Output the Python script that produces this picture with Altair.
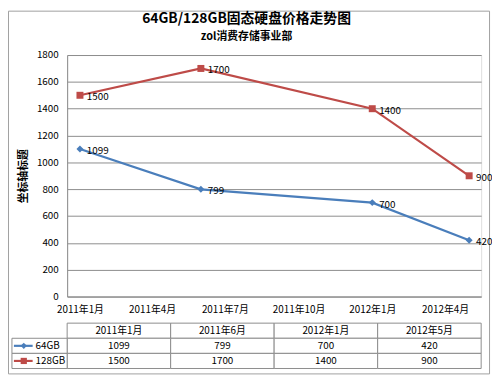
import altair as alt
import pandas as pd

# ---------------- data ----------------
series_names = ["64GB", "128GB"]
point_dates = ["2011-01-01T00:00:00", "2011-06-01T00:00:00",
               "2012-01-01T00:00:00", "2012-05-01T00:00:00"]
point_labels = ["2011年1月", "2011年6月", "2012年1月", "2012年5月"]
values_64 = [1099, 799, 700, 420]
values_128 = [1500, 1700, 1400, 900]
series_colors = ["#4A7EBB", "#BE4B48"]
series_shapes = ["diamond", "square"]
x_tick_months = [(2011, 1), (2011, 4), (2011, 7), (2011, 10), (2012, 1), (2012, 4)]
y_ticks = [0, 200, 400, 600, 800, 1000, 1200, 1400, 1600, 1800]

title_text = "64GB/128GB固态硬盘价格走势图"
subtitle_text = "zol消费存储事业部"
y_title = "坐标轴标题"

FONT = "Noto Sans CJK SC"
GRID = "#8c8c8c"
TXT = "#000000"

# ---------------- tables ----------------
line_rows = []
for name, vals in zip(series_names, [values_64, values_128]):
    for d, v in zip(point_dates, vals):
        line_rows.append({"series": name, "date": d, "value": v})
line_df = pd.DataFrame(line_rows)

cell_rows = []
for i, lab in enumerate(point_labels):
    cell_rows.append({"row": 0, "col": i, "text": lab})
for r, vals in enumerate([values_64, values_128], start=1):
    for i, v in enumerate(vals):
        cell_rows.append({"row": r, "col": i, "text": str(v)})
cell_df = pd.DataFrame(cell_rows)

name_df = pd.DataFrame({"series": series_names, "row": [1, 2]})
title_df = pd.DataFrame({"title": [title_text], "subtitle": [subtitle_text]})

color_scale = alt.Scale(domain=series_names, range=series_colors)
shape_scale = alt.Scale(domain=series_names, range=series_shapes)

# ---------------- line chart ----------------
x_enc = alt.X(
    "date:T",
    scale=alt.Scale(domain=[alt.DateTime(year=2010, month=12, date=16),
                            alt.DateTime(year=2012, month=5, date=16)]),
    axis=alt.Axis(
        values=[alt.DateTime(year=y, month=m, date=1) for y, m in x_tick_months],
        format="%Y年%-m月", title=None, grid=False, ticks=False,
        labelPadding=8, labelFont=FONT, labelFontSize=10, labelColor=TXT,
        domainColor=GRID, labelAngle=0,
    ),
)
y_enc = alt.Y(
    "value:Q",
    scale=alt.Scale(domain=[0, 1800], nice=False),
    axis=alt.Axis(
        values=y_ticks, format="d", title=y_title, titleFont=FONT, titleFontSize=11,
        titleFontWeight="bold", titleColor=TXT, titlePadding=8,
        labelFont=FONT, labelFontSize=10, labelColor=TXT, labelPadding=9,
        ticks=False, grid=True, gridColor=GRID, domainColor=GRID,
    ),
)
color_enc = alt.Color("series:N", scale=color_scale, legend=None)

base = alt.Chart(line_df).encode(x=x_enc, y=y_enc)
lines = base.mark_line(strokeWidth=2.2).encode(color=color_enc)
points = base.mark_point(filled=True, size=50, opacity=1).encode(
    color=color_enc,
    shape=alt.Shape("series:N", scale=shape_scale, legend=None))
labels = base.mark_text(align="left", baseline="middle", dx=7, dy=2,
                        font=FONT, fontSize=10).encode(
    text="value:Q", color=alt.value(TXT))

plot_layer = alt.layer(lines, points, labels)

# ---------------- data table ----------------
col_x = alt.X("col:Q", scale=alt.Scale(domain=[0, 4], range=[0, 420]), axis=None)
row_y = alt.Y("row:Q", scale=alt.Scale(domain=[0, 3], range=[272, 318]), axis=None)

cells = alt.Chart(cell_df).transform_calculate(
    col2="datum.col + 1", row2="datum.row + 1",
    cmid="datum.col + 0.5", rmid="datum.row + 0.5",
)
cell_rects = cells.mark_rect(fill="white", stroke=GRID, strokeWidth=1).encode(
    x=col_x, x2="col2:Q", y=row_y, y2="row2:Q")
cell_text = cells.mark_text(font=FONT, fontSize=10, color=TXT,
                            baseline="middle").encode(
    x=alt.X("cmid:Q", scale=alt.Scale(domain=[0, 4], range=[0, 420]), axis=None),
    y=alt.Y("rmid:Q", scale=alt.Scale(domain=[0, 3], range=[272, 318]), axis=None),
    text="text:N")

names = alt.Chart(name_df).transform_calculate(
    row2="datum.row + 1", rmid="datum.row + 0.5")
name_rects = names.mark_rect(fill="white", stroke=GRID, strokeWidth=1).encode(
    x=alt.value(-56), x2=alt.value(0), y=row_y, y2="row2:Q")
name_rmid = alt.Y("rmid:Q", scale=alt.Scale(domain=[0, 3], range=[272, 318]), axis=None)
name_keys = names.mark_rule(strokeWidth=2.2).encode(
    x=alt.value(-54), x2=alt.value(-35), y=name_rmid, color=color_enc)
name_marks = names.mark_point(filled=True, size=40, opacity=1).encode(
    x=alt.value(-44), y=name_rmid, color=color_enc,
    shape=alt.Shape("series:N", scale=shape_scale, legend=None))
name_text = names.mark_text(align="left", baseline="middle", font=FONT,
                            fontSize=10, color=TXT).encode(
    x=alt.value(-32), y=name_rmid, text="series:N")

table_layer = alt.layer(cell_rects, cell_text, name_rects, name_keys,
                        name_marks, name_text)

# ---------------- frame + titles ----------------
deco = alt.Chart(title_df)
frame = deco.mark_rect(fill=None, stroke="#a0a0a0", strokeWidth=1).encode(
    x=alt.value(-59.5), x2=alt.value(428.5), y=alt.value(-44.5), y2=alt.value(323.5))
title_mark = deco.mark_text(font=FONT, fontSize=14, fontWeight="bold",
                            color=TXT, baseline="middle").encode(
    x=alt.value(182), y=alt.value(-36), text="title:N")
subtitle_mark = deco.mark_text(font=FONT, fontSize=11, fontWeight="bold",
                               color=TXT, baseline="middle").encode(
    x=alt.value(182), y=alt.value(-18), text="subtitle:N")

chart = alt.layer(frame, title_mark, subtitle_mark, plot_layer, table_layer).resolve_scale(
    x="independent", y="independent"
).properties(
    width=420, height=245,
    autosize=alt.AutoSizeParams(type="none"),
    padding={"left": 60, "top": 45, "right": 11, "bottom": 85},
).configure_view(stroke=None).configure(background="white")

chart.save("out.html", embed_options={"renderer": "svg", "actions": False})
